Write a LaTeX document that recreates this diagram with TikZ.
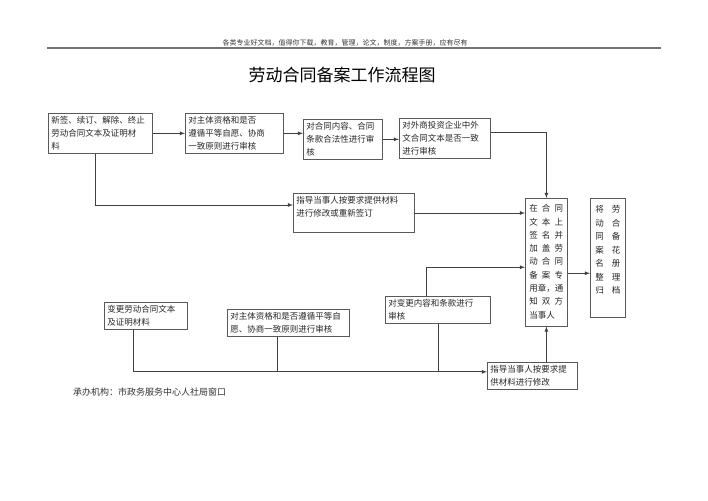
\documentclass[tikz,border=0pt]{standalone}
\usepackage{fontspec}
\setmainfont{Noto Sans CJK SC}
\begin{document}
\begin{tikzpicture}[x=1pt, y=-1pt,
    box/.style={draw=black!65, line width=0.8pt, anchor=north west,
                align=left, inner sep=3pt, text=black!85,
                font=\fontsize{8.5}{13}\selectfont},
    flow/.style={draw=black!75, line width=0.8pt, -latex},
    link/.style={draw=black!75, line width=0.8pt}
]
\useasboundingbox (0,0) rectangle (708,500);

% 页眉与标题
\node[text=black!80] (head) at (345,43)
    {\fontsize{7}{8}\selectfont 各类专业好文档，值得你下载，教育，管理，论文，制度，方案手册，应有尽有};
\draw[black!55, line width=1.2pt] (47,48) -- (661,48);
\node (title) at (342,75) {\fontsize{17}{20}\selectfont 劳动合同备案工作流程图};

% 第一行
\node[box, text width=98pt] (sign)    at (48,113)  {新签、续订、解除、终止\\劳动合同文本及证明材\\料};
\node[box, text width=92pt] (subj)    at (185,113) {对主体资格和是否\\遵循平等自愿、协商\\一致原则进行审核};
\node[box, text width=73pt] (clause)  at (303,119) {对合同内容、合同\\条款合法性进行审\\核};
\node[box, text width=85pt] (foreign) at (399,118) {对外商投资企业中外\\文合同文本是否一致\\进行审核};
\node[box, text width=115pt] (guide)  at (293,193) {指导当事人按要求提供材料\\进行修改或重新签订\\ \mbox{}};

% 右侧竖排
\node[box, inner sep=4pt] (stamp) at (525,198) {%
  \fontsize{8.5}{13.3}\selectfont
  \begin{tabular}{@{}c@{\hspace{4pt}}c@{\hspace{4pt}}c@{}}
  在&合&同\\ 文&本&上\\ 签&名&并\\ 加&盖&劳\\ 动&合&同\\ 备&案&专\\
  \multicolumn{3}{@{}l@{}}{用章，通}\\ 知&双&方\\ \multicolumn{3}{@{}l@{}}{当事人}
  \end{tabular}};
\node[box, inner sep=5pt] (file) at (590,198) {%
  \fontsize{8.5}{13.5}\selectfont
  \begin{tabular}{@{}c@{\hspace{8pt}}c@{}}
  将&劳\\ 动&合\\ 同&备\\ 案&花\\ 名&册\\ 整&理\\ 归&档\\[14pt]
  \end{tabular}};

% 变更流程
\node[box, text width=77pt]  (change) at (104,302) {变更劳动合同文本\\及证明材料};
\node[box, text width=116pt] (subj2)  at (227,309) {对主体资格和是否遵循平等自\\愿、协商一致原则进行审核};
\node[box, text width=99pt]  (alter)  at (385,296) {对变更内容和条款进行\\审核};
\node[box, text width=84pt]  (fix)    at (487,362) {指导当事人按要求提\\供材料进行修改};

\node[anchor=west, inner sep=0pt, text=black!80] (office) at (73,392)
    {\fontsize{9}{11}\selectfont 承办机构：市政务服务中心人社局窗口};

% 连线
\draw[flow] (sign.east) -- (sign.east -| subj.west);
\draw[flow] (subj.east) -- (subj.east -| clause.west);
\draw[flow] (clause.east) -- (clause.east -| foreign.west);
\draw[flow] ([yshift=6pt]foreign.east) -| (stamp.north);
\draw[flow] ([xshift=-5pt]sign.south) |- ([yshift=8pt]guide.west);
\draw[flow] (guide.east) -- (guide.east -| stamp.west);
\draw[flow] ([yshift=-11pt]stamp.east) -- ([yshift=-11pt]stamp.east -| file.west);

\coordinate (merge) at ([yshift=4pt]fix.west);
\draw[flow] ([xshift=-13pt]change.south) |- (merge);
\draw[link] ([xshift=-11pt]subj2.south) -- ([xshift=-11pt]subj2.south |- merge);
\draw[link] (alter.south) -- (alter.south |- merge);
\draw[flow] ([xshift=-12pt]alter.north) |- ([yshift=-5pt]stamp.west);
\draw[flow] (fix.north -| stamp.south) -- (stamp.south);

\end{tikzpicture}
\end{document}
